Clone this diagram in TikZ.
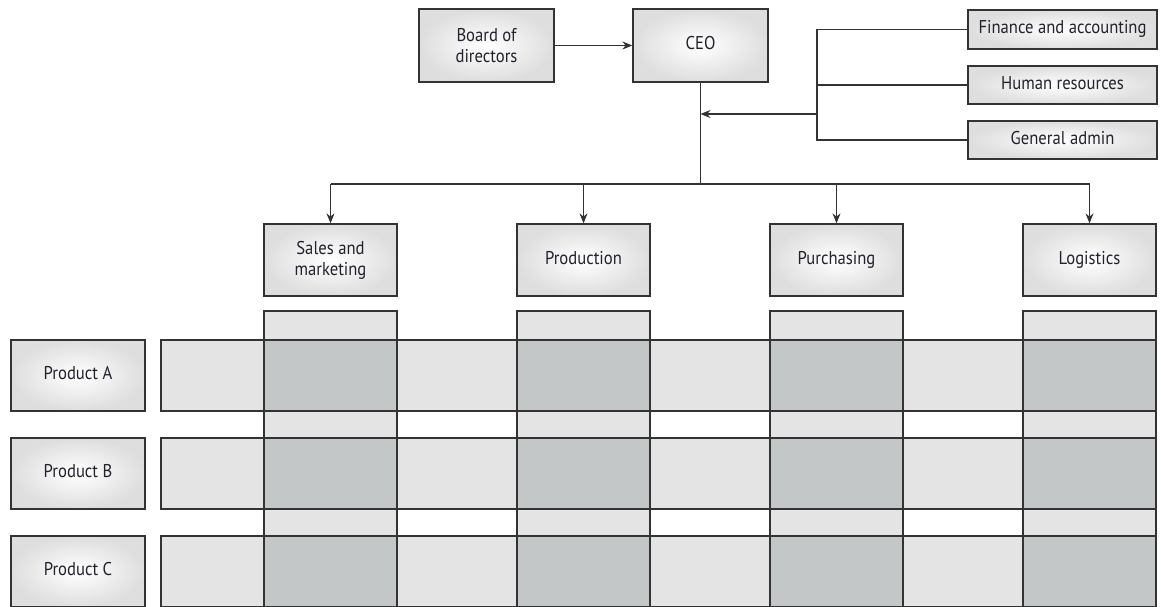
\documentclass[tikz,border=0pt]{standalone}
\usepackage{fontspec}
\setmainfont{PT Sans}[FakeStretch=0.9]
\usetikzlibrary{arrows.meta}
\definecolor{lightcell}{HTML}{E4E4E4}
\definecolor{darkcell}{HTML}{C4C7C8}
\definecolor{linecol}{HTML}{333333}
\definecolor{txtcol}{HTML}{22222E}
\tikzset{
  boxst/.style={draw=linecol, line width=1.3pt, inner color=white, outer color=black!13,
    align=center, text=txtcol, font=\fontsize{18.5}{21}\selectfont, inner sep=1pt},
  conn/.style={draw=linecol, line width=1.2pt},
  arr/.style={conn, -{Stealth[length=10pt,width=8pt]}},
  cellst/.style={draw=linecol, line width=1.2pt}
}
\begin{document}
\begin{tikzpicture}[x=1pt,y=-1pt]
\clip (0,0) rectangle (1161,607);
\fill[white] (0,0) rectangle (1161,607);
% top boxes
\node[boxst, minimum width=135, minimum height=73] (board) at (486.5,45.5) {Board of\\directors};
\node[boxst, minimum width=135, minimum height=73] (ceo) at (700.5,45.5) {\strut CEO};
\node[boxst, minimum width=189, minimum height=39] (fin) at (1062.5,29.5) {\strut Finance and accounting};
\node[boxst, minimum width=189, minimum height=38] (hr) at (1062.5,85) {\strut Human resources};
\node[boxst, minimum width=189, minimum height=38] (ga) at (1062.5,140) {\strut General admin};
% functions
\node[boxst, minimum width=133, minimum height=72] (sales) at (330.5,260) {Sales and\\marketing};
\node[boxst, minimum width=133, minimum height=72] (prod) at (583.5,260) {\strut Production};
\node[boxst, minimum width=133, minimum height=72] (purch) at (836.5,260) {\strut Purchasing};
\node[boxst, minimum width=133, minimum height=72] (logi) at (1089.5,260) {\strut Logistics};
% products
\node[boxst, minimum width=134, minimum height=71] (pa) at (78,375.5) {\strut Product A};
\node[boxst, minimum width=134, minimum height=71] (pb) at (78,473.5) {\strut Product B};
\node[boxst, minimum width=134, minimum height=71] (pc) at (78,571.5) {\strut Product C};
% connectors
\draw[arr] (board.east) -- (ceo.west);
\coordinate (bus) at (700.5,184);
\coordinate (jfin) at (817,29.5);
\coordinate (jhr) at (817,85);
\coordinate (jga) at (817,140);
\coordinate (jin) at (817,114);
\coordinate (jceo) at (700.5,114);
\draw[conn] (ceo.south) -- (bus);
\draw[conn] (fin.west) -- (jfin) -- (jga) -- (ga.west);
\draw[conn] (hr.west) -- (jhr);
\draw[arr] (jin) -- (jceo);
\draw[conn] (sales.north |- bus) -- (logi.north |- bus);
\foreach \n in {sales,prod,purch,logi}{
  \draw[arr] (\n.north |- bus) -- (\n.north);
}
% matrix: columns
\foreach \cx in {264,517,770,1023}{
  \filldraw[cellst, fill=lightcell] (\cx,311) rectangle ++(133,320);
}
% rows
\foreach \ry in {340,438,536}{
  \filldraw[cellst, fill=lightcell] (161,\ry) rectangle (1156,\ry+71);
  \foreach \cx in {264,517,770,1023}{
    \filldraw[cellst, fill=darkcell] (\cx,\ry) rectangle ++(133,71);
  }
}
\end{tikzpicture}
\end{document}
